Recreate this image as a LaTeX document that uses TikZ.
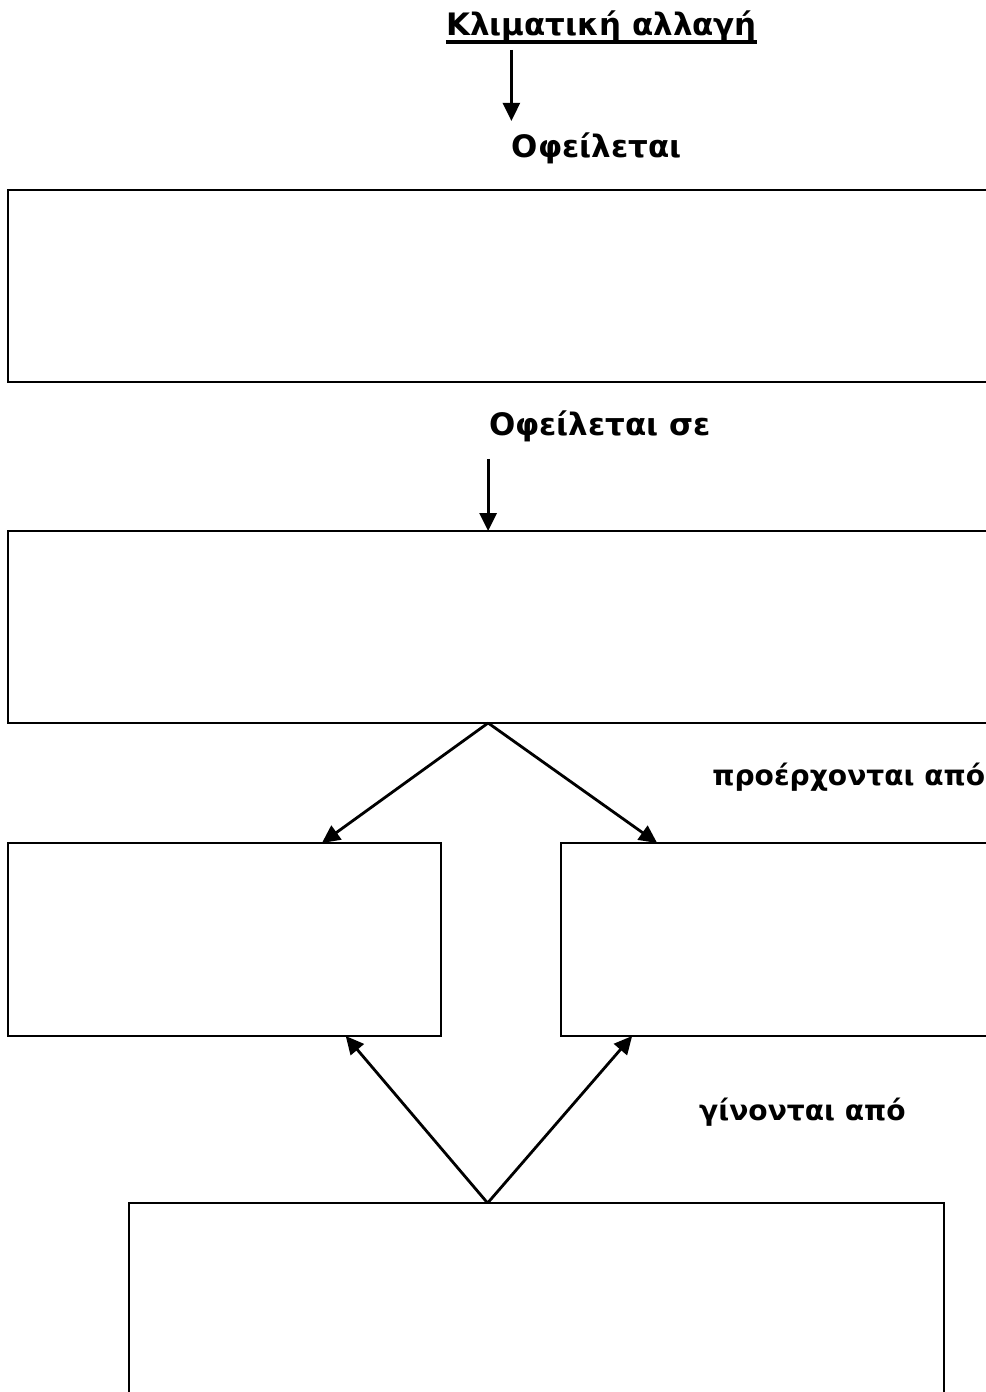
\documentclass[tikz,border=0pt]{standalone}
\usepackage{fontspec}
\setmainfont{DejaVu Sans}
\usepackage{tikz}
\usetikzlibrary{arrows.meta,calc}
\tikzset{
Cadre/.style={
 draw=black, 
 line width=1.2pt, 
 rectangle, 
 inner sep=0pt, 
 outer sep=0pt
 },
FlecheNoire/.style={
 draw=black, 
 line width=1.6pt, 
 -{Triangle[length=3.6mm,width=3.4mm]}
 },
Texte/.style={
 font=\fontsize{17.6}{21}\selectfont\bfseries, 
 inner sep=0pt, 
 anchor=base
 },
PetitTexte/.style={
 Texte, 
 font=\fontsize{16}{19}\selectfont\bfseries
 }
}

\begin{document}
\begin{tikzpicture}[x=0.02cm,y=-0.02cm]
\useasboundingbox (0,0) rectangle (985,1392);
\node[Texte] (titre) at (601.5,36) {Κλιματική αλλαγή};
\draw[line width=1.8pt] ($(titre.base west)+(0,6)$) -- ($(titre.base east)+(0,6)$);
\node[Texte] (ofeil) at (596.5,158) {Οφείλεται};
\node[Texte] (ofeilse) at (600,435) {Οφείλεται σε};
\node[PetitTexte,anchor=base west] (proerch) at (712,785) {προέρχονται από};
\node[PetitTexte] (ginont) at (802.5,1120) {γίνονται από};
\node[Cadre,minimum width=19.84cm,minimum height=3.84cm] (aities) at (504,286) {};
\node[Cadre,minimum width=19.84cm,minimum height=3.84cm] (pigi) at (504,627) {};
\node[Cadre,minimum width=8.66cm,minimum height=3.86cm] (gauche) at (224.5,939.5) {};
\node[Cadre,minimum width=8.78cm,minimum height=3.86cm] (droite) at (780.5,939.5) {};
\node[Cadre,minimum width=16.3cm,minimum height=4.14cm] (bas) at (536.5,1306.5) {};
\coordinate (haut) at ($(pigi.north west)!0.484!(pigi.north east)$);
\coordinate (fourche) at ($(pigi.south west)!0.484!(pigi.south east)$);
\coordinate (pointe) at ($(bas.north west)!0.44!(bas.north east)$);
\draw[FlecheNoire] ($(ofeil.north west |- titre.south)+(0,7)$) -- ($(ofeil.north west)+(0,-12)$);
\draw[FlecheNoire] ($(haut |- ofeilse.south)+(0,17)$) -- (haut);
\draw[FlecheNoire] (fourche) -- ($(gauche.north west)!0.725!(gauche.north east)$);
\draw[FlecheNoire] (fourche) -- ($(droite.north west)!0.219!(droite.north east)$);
\draw[FlecheNoire] (pointe) -- ($(gauche.south west)!0.78!(gauche.south east)$);
\draw[FlecheNoire] (pointe) -- ($(droite.south west)!0.162!(droite.south east)$);
\end{tikzpicture}
\end{document}
